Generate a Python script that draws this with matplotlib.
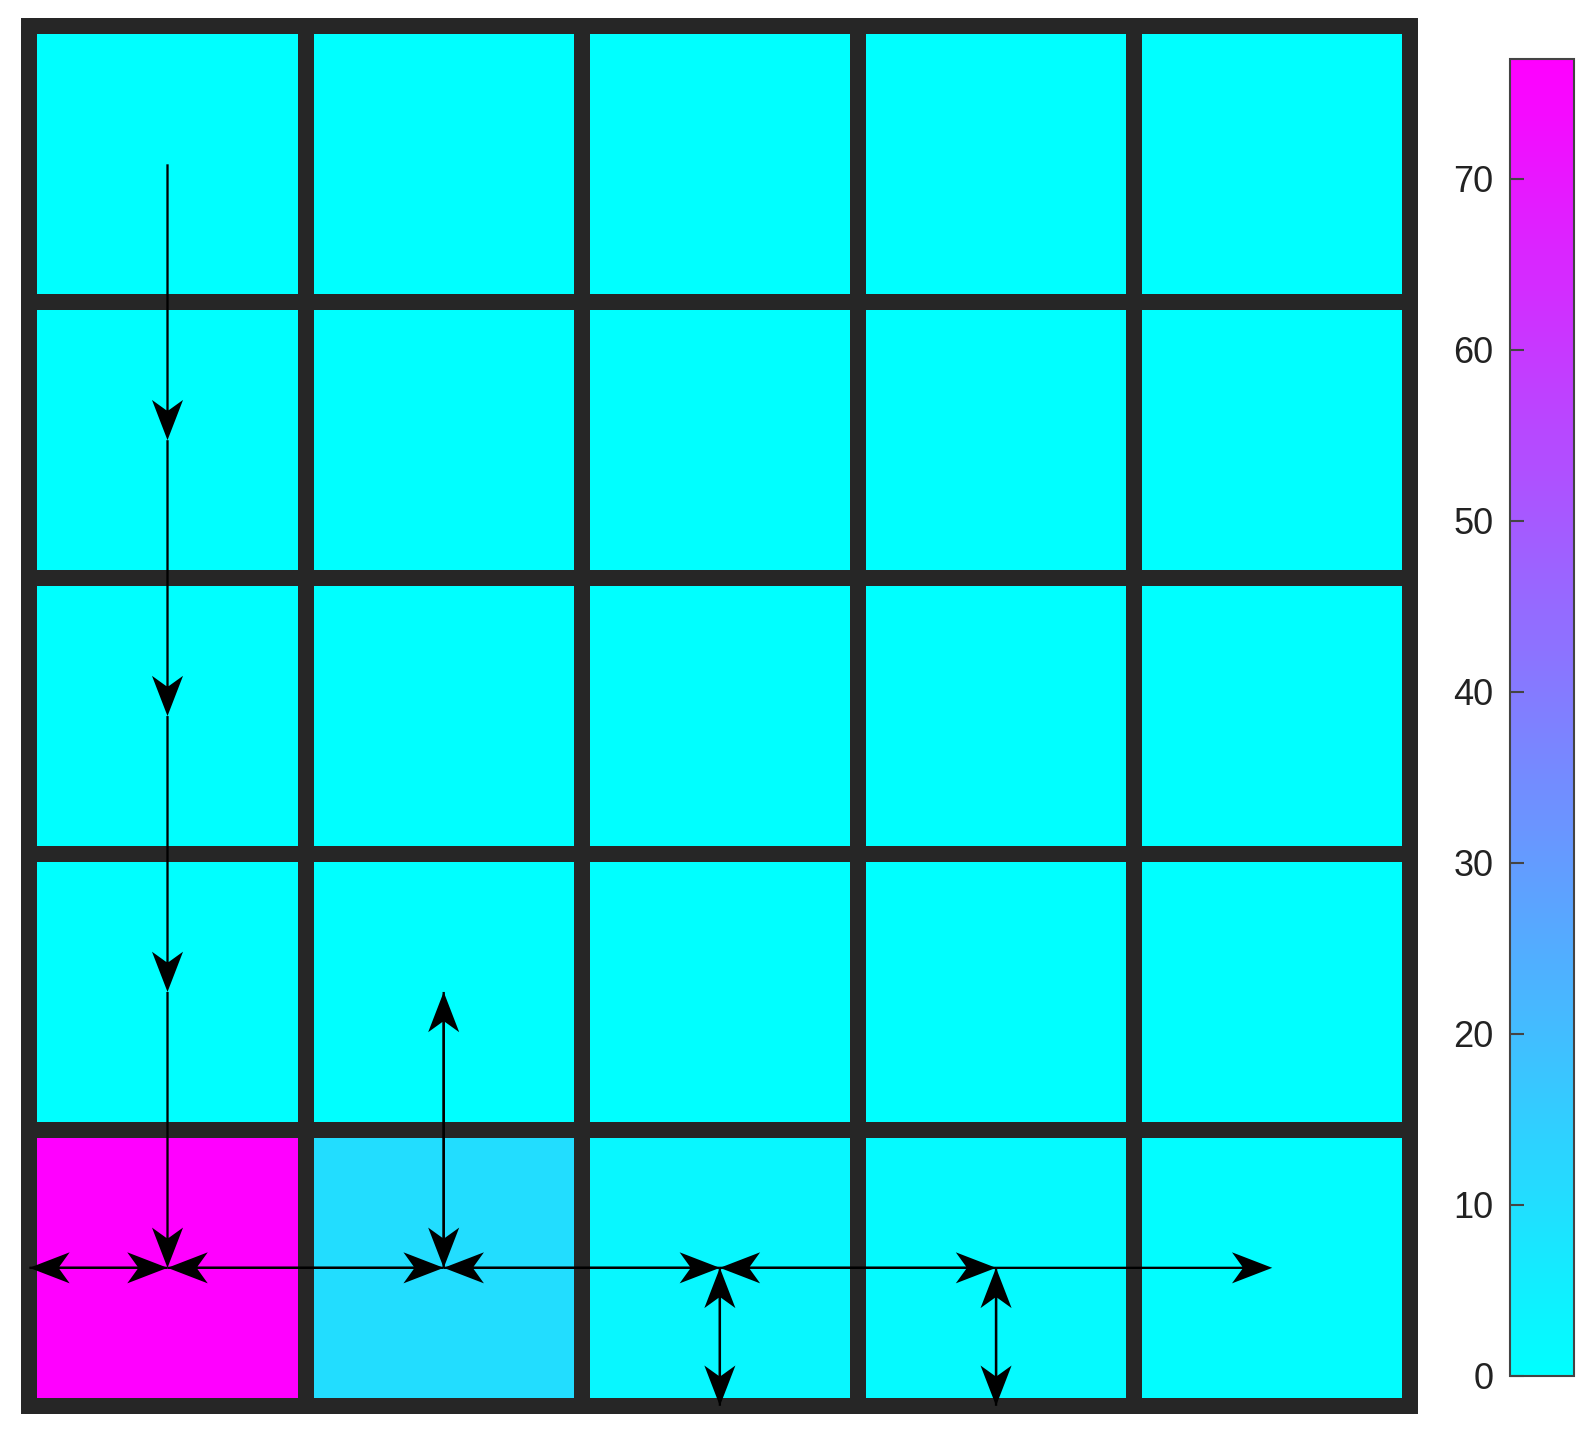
import matplotlib
matplotlib.use("Agg")
import matplotlib.pyplot as plt
from matplotlib.patches import Rectangle
import numpy as np

plt.rcParams['font.family'] = ['Liberation Sans', 'DejaVu Sans']

# cell values, row 0 is the top row
cell_values = [
    [0.0, 0.0, 0.0, 0.0, 0.0],
    [0.0, 0.0, 0.0, 0.0, 0.0],
    [0.0, 0.0, 0.0, 0.0, 0.0],
    [0.0, 0.0, 0.0, 0.0, 0.0],
    [77.0, 10.5, 2.5, 1.8, 0.9],
]

# arrows: tail (col, row) and displacement (dcol, drow), rows counted from top
arrow_col = [0, 0, 0, 0,
             0, -0.5, 1, 0, 2, 1, 3, 2, 3,
             1, 1, 2, 2, 3, 3]
arrow_row = [0, 1, 2, 3,
             4, 4, 4, 4, 4, 4, 4, 4, 4,
             4, 3, 4, 4.5, 4, 4.5]
arrow_dc = [0, 0, 0, 0,
            -0.5, 0.5, -1, 1, -1, 1, -1, 1, 1,
            0, 0, 0, 0, 0, 0]
arrow_dr = [1, 1, 1, 1,
            0, 0, 0, 0, 0, 0, 0, 0, 0,
            -1, 1, 0.5, -0.5, 0.5, -0.5]

cbar_ticks = [0, 10, 20, 30, 40, 50, 60, 70]

fig = plt.figure(figsize=(15.9, 14.33), dpi=100)
ax = fig.add_axes([0.0185, 0.019, 0.8685, 0.9626])

vals = np.array(cell_values)
n_rows, n_cols = vals.shape
xe = np.arange(n_cols + 1) - 0.5
ye = np.arange(n_rows + 1) - 0.5
mesh = ax.pcolormesh(xe, ye, vals, cmap='cool', vmin=0, vmax=vals.max(),
                     edgecolors='#262626', linewidth=11.5)
mesh.set_clip_on(False)

# outer frame drawn once so the corners join cleanly
frame = Rectangle((-0.5, -0.5), n_cols, n_rows, fill=False,
                  edgecolor='#262626', linewidth=11.5, joinstyle='miter',
                  clip_on=False, zorder=2)
ax.add_patch(frame)

# y axis is inverted, so with angles='xy' a positive drow points down
ax.quiver(arrow_col, arrow_row, arrow_dc, arrow_dr,
          angles='xy', scale_units='xy', scale=1, units='dots', width=2.3,
          headwidth=13.5, headlength=17.5, headaxislength=13,
          color='black', zorder=3, clip_on=False)

ax.set_xlim(-0.5, n_cols - 0.5)
ax.set_ylim(n_rows - 0.5, -0.5)
ax.set_axis_off()

cax = fig.add_axes([0.9497, 0.0398, 0.0402, 0.919])
cb = fig.colorbar(mesh, cax=cax, ticks=cbar_ticks)
cb.outline.set_edgecolor('#444444')
cb.outline.set_linewidth(1.5)
cax.yaxis.set_ticks_position('left')
cax.yaxis.set_label_position('left')
cax.tick_params(axis='y', direction='in', length=10, width=1.5,
                color='#444444', labelsize=26, pad=12, labelcolor='#222222')

plt.savefig('out.png', dpi=100)
